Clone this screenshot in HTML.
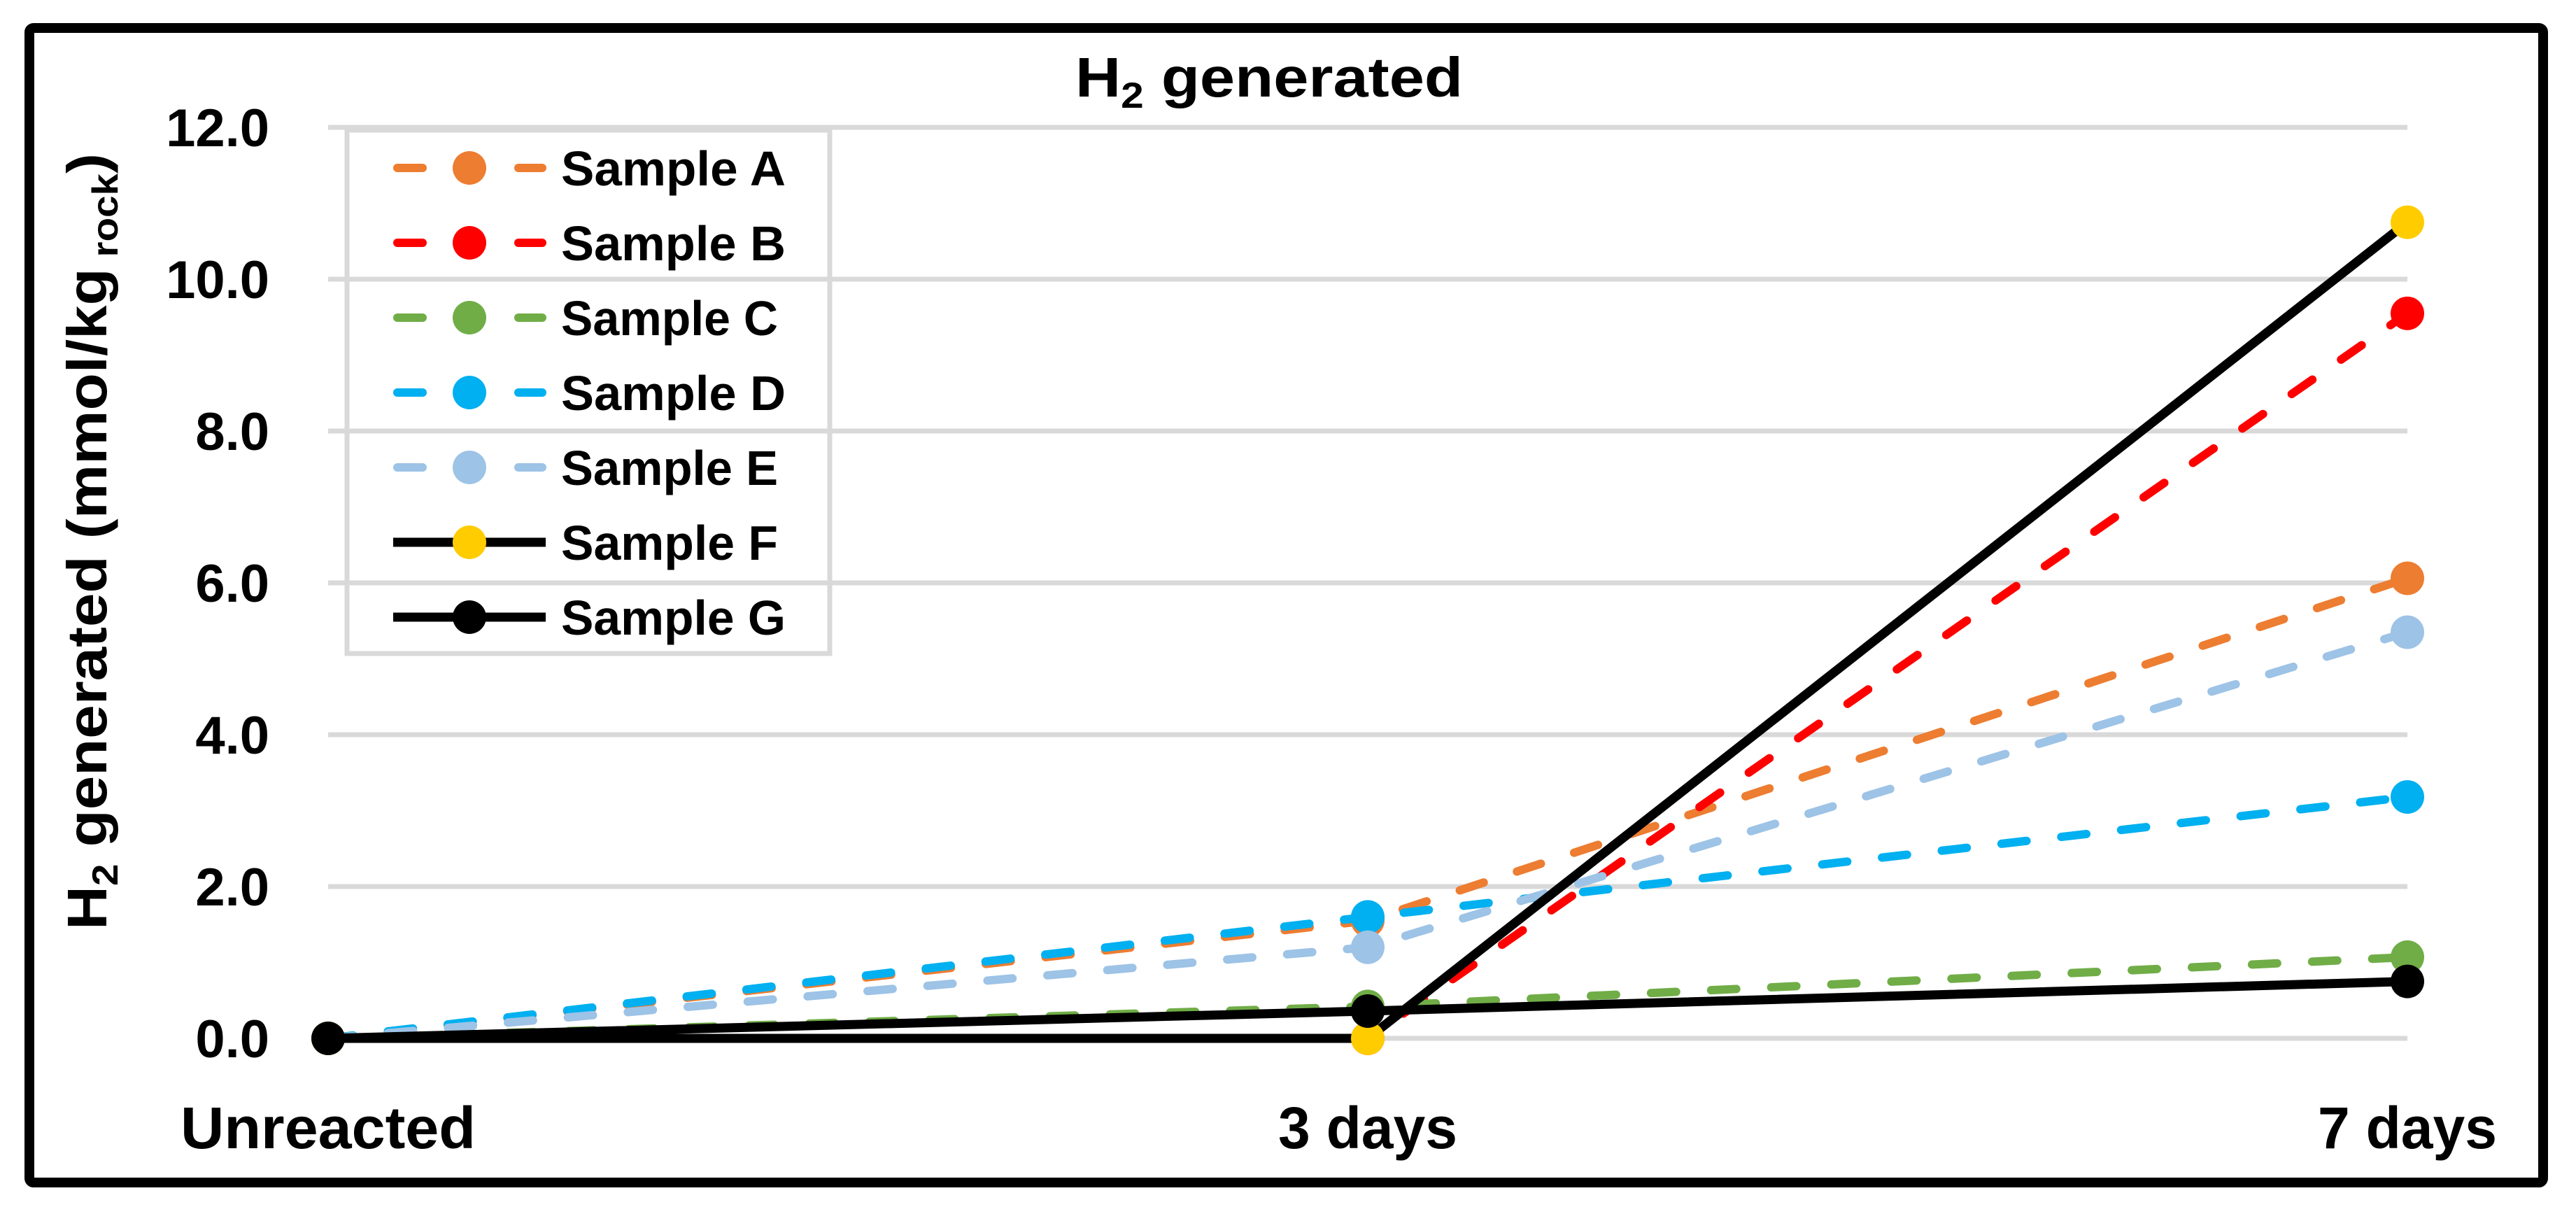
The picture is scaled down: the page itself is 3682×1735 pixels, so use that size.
<!DOCTYPE html>
<html><head><meta charset="utf-8"><style>
html,body{margin:0;padding:0;background:#fff}
svg{display:block}
text{font-family:"Liberation Sans",sans-serif;font-weight:bold;fill:#000}
</style></head><body>
<svg id="chart" width="3682" height="1735" viewBox="0 0 3682 1735" xmlns="http://www.w3.org/2000/svg">
<rect x="42" y="40" width="3593" height="1650" rx="6" fill="#fff" stroke="#000" stroke-width="14"/>
<g id="grid"></g>
<g id="yticks"></g>
<g id="xticks"></g>
<g id="series"></g>
<text x="1537" y="138" font-size="80" textLength="554" lengthAdjust="spacingAndGlyphs">H<tspan font-size="52" dy="16">2</tspan><tspan dy="-16"> generated</tspan></text>
<text transform="translate(152,1329) rotate(-90)" font-size="80" textLength="1110" lengthAdjust="spacingAndGlyphs">H<tspan font-size="52" dy="16">2</tspan><tspan dy="-16"> generated (mmol/kg</tspan><tspan font-size="52" dy="16"> rock</tspan><tspan dy="-16">)</tspan></text>
<rect x="496" y="186" width="690" height="748" fill="none" stroke="#D9D9D9" stroke-width="7"/>
<g id="legend"></g>
</svg>
<script>
const categories = ["Unreacted", "3 days", "7 days"];
const yTicks = [0, 2, 4, 6, 8, 10, 12];
const seriesNames = ["Sample A","Sample B","Sample C","Sample D","Sample E","Sample F","Sample G"];
const seriesA = [0, 1.55, 6.06];
const seriesB = [0, 0.0, 9.55];
const seriesC = [0, 0.42, 1.07];
const seriesD = [0, 1.60, 3.18];
const seriesE = [0, 1.20, 5.35];
const seriesF = [0, 0.0, 10.75];
const seriesG = [0, 0.36, 0.75];
const seriesValues = [seriesA, seriesB, seriesC, seriesD, seriesE, seriesF, seriesG];
const lineColors = ["#ED7D31","#FF0000","#70AD47","#00B0F0","#9DC3E6","#000000","#000000"];
const markerColors = ["#ED7D31","#FF0000","#70AD47","#00B0F0","#9DC3E6","#FFCC00","#000000"];
const dashed = [true,true,true,true,true,false,false];

const NS = "http://www.w3.org/2000/svg";
const X0 = 469, X1 = 3441, Y0 = 1484, Y12 = 182;
function xPos(i){ return X0 + i * (X1 - X0) / (categories.length - 1); }
function yPos(v){ return Y0 - v * (Y0 - Y12) / 12; }
function mk(tag, attrs, parent){ const e = document.createElementNS(NS, tag); for (const k in attrs) e.setAttribute(k, attrs[k]); parent.appendChild(e); return e; }

const grid = document.getElementById('grid');
const yt = document.getElementById('yticks');
yTicks.forEach(v => {
  const l = mk('line', {x1:X0, x2:X1, y1:yPos(v), y2:yPos(v), stroke:'#D9D9D9', 'stroke-width':7}, grid);
  
  
  const t = mk('text', {x:385, y:yPos(v)+27, 'text-anchor':'end', 'font-size':76}, yt);
  t.textContent = v.toFixed(1);
  
  
});
const xt = document.getElementById('xticks');
const xw = [422, 256, 256];
categories.forEach((c, i) => {
  const t = mk('text', {x:xPos(i), y:1641, 'text-anchor':'middle', 'font-size':84, textLength:xw[i], lengthAdjust:'spacingAndGlyphs'}, xt);
  t.textContent = c;
  
  
});
const sg = document.getElementById('series');
seriesValues.forEach((vals, s) => {
  const pts = vals.map((v, i) => xPos(i) + ',' + yPos(v)).join(' ');
  const pl = mk('polyline', {points:pts, fill:'none', stroke:lineColors[s], 'stroke-width':dashed[s]?12:13, 'stroke-linecap':dashed[s]?'round':'butt', 'stroke-linejoin':'round'}, sg);
  if (dashed[s]) pl.setAttribute('stroke-dasharray', '36 50');
  
  
  vals.forEach((v, i) => {
    const c = mk('circle', {cx:xPos(i), cy:yPos(v), r:24, fill:markerColors[s]}, sg);
    
    
  });
});
const lg = document.getElementById('legend');
seriesNames.forEach((n, s) => {
  const y = 240 + s * 107;
  const g = mk('g', {}, lg);
  
  
  if (dashed[s]) {
    mk('line', {x1:568, x2:604, y1:y, y2:y, stroke:lineColors[s], 'stroke-width':12, 'stroke-linecap':'round'}, g);
    mk('line', {x1:741, x2:775, y1:y, y2:y, stroke:lineColors[s], 'stroke-width':12, 'stroke-linecap':'round'}, g);
  } else {
    mk('line', {x1:562, x2:780, y1:y, y2:y, stroke:lineColors[s], 'stroke-width':13}, g);
  }
  mk('circle', {cx:671, cy:y, r:24, fill:markerColors[s]}, g);
  const t = mk('text', {x:802, y:y+25, 'font-size':70, textLength:(s===2||s===4||s===5?310:321), lengthAdjust:'spacingAndGlyphs'}, g);
  t.textContent = n;
});
</script>
</body></html>
